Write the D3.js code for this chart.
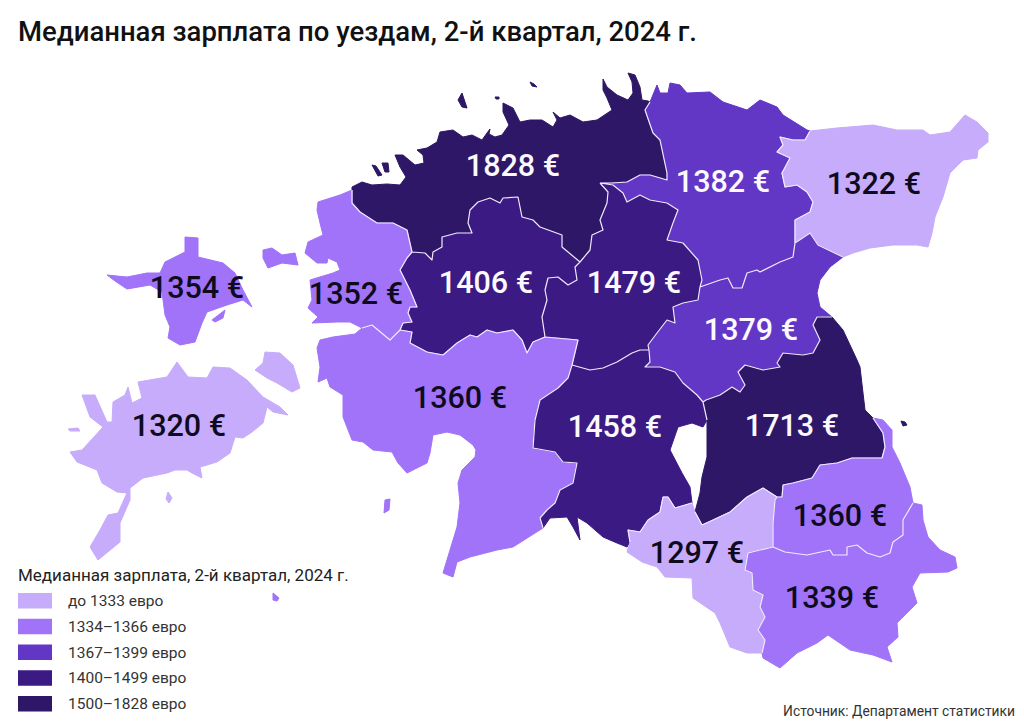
<!DOCTYPE html>
<html>
<head>
<meta charset="utf-8">
<script src="https://cdn.jsdelivr.net/npm/d3@7"></script>
<style>
  html, body { margin: 0; background: #fff; }
  svg { display: block; font-family: Roboto, sans-serif; }
</style>
</head>
<body>
<svg id="chart" width="1024" height="722"></svg>
<script>
var chartTitle = 'Медианная зарплата по уездам, 2-й квартал, 2024 г.';
var legendTitle = 'Медианная зарплата, 2-й квартал, 2024 г.';
var sourceText = 'Источник: Департамент статистики';

var counties = ['Harju', 'Laane-Viru', 'Ida-Viru', 'Jogeva', 'Jarva', 'Rapla', 'Laane', 'Parnu', 'Viljandi', 'Tartu', 'Valga', 'Polva', 'Voru', 'Hiiu', 'Saare'];
var wages = [1828, 1382, 1322, 1379, 1479, 1406, 1352, 1360, 1458, 1713, 1297, 1360, 1339, 1354, 1320];
var labelAnchors = [[513, 165], [723, 181], [874, 183], [751, 329], [634, 282], [486, 282], [356, 293], [460, 397], [615, 426], [792, 425], [697, 552], [840, 515], [832, 597], [197, 287], [179, 425]];

var thresholds = [1334, 1367, 1400, 1500];
var legendLabels = ['до 1333 евро', '1334–1366 евро', '1367–1399 евро', '1400–1499 евро', '1500–1828 евро'];
var palette = ['#c6acfa', '#a073f8', '#6237c6', '#3c1a84', '#2e1766'];

// county outlines, one array per shared border
var harjuCoast = [[352,190],[352,187],[362,182],[372,185],[387,184],[400,185],[406,177],[400,167],[395,155],[403,155],[415,165],[424,163],[423,155],[417,150],[427,148],[437,142],[440,132],[453,130],[463,137],[472,135],[482,140],[487,133],[490,129],[489,134],[495,137],[502,135],[509,125],[503,112],[503,103],[513,108],[520,122],[530,120],[542,120],[553,127],[557,120],[553,112],[560,118],[570,115],[583,122],[597,120],[612,110],[607,98],[603,90],[603,79],[607,87],[617,95],[628,100],[633,93],[632,82],[628,73],[635,75],[640,87],[642,100],[648,101],[650,102]];
var harjuViru = [[650,102],[645,110],[653,133],[660,140],[667,173],[667,180],[650,175],[640,175],[627,182],[612,183],[600,183]];
var harjuJarva = [[600,183],[608,192],[607,203],[600,220],[603,230],[592,235],[590,250],[580,262]];
var harjuRapla = [[580,262],[562,247],[562,235],[540,227],[533,220],[522,217],[518,197],[503,198],[500,203],[490,198],[478,202],[470,210],[468,223],[472,233],[457,233],[442,237],[442,247],[433,252],[432,260],[425,253],[412,252]];
var harjuLaane = [[412,252],[407,230],[393,223],[377,223],[360,212],[352,203],[352,190]];
var viruCoast = [[650,102],[657,85],[660,93],[668,93],[670,83],[680,85],[687,93],[710,92],[723,102],[747,110],[760,100],[777,107],[783,115],[807,130],[810,131]];
var viruIda = [[810,131],[805,140],[793,140],[780,137],[783,145],[777,152],[790,158],[782,173],[785,187],[797,185],[807,192],[813,202],[810,212],[795,220],[795,243]];
var viruJogeva = [[795,243],[793,257],[780,262],[760,272],[757,270],[747,273],[742,288],[733,288],[728,278],[720,280],[700,287]];
var viruJarva = [[700,287],[702,280],[698,260],[683,243],[667,240],[673,223],[678,210],[667,203],[650,200],[640,195],[627,202],[623,193],[613,185],[600,183]];
var idaCoast = [[810,131],[837,128],[873,125],[897,130],[923,130],[930,135],[950,132],[965,115],[977,122],[988,133],[988,142],[978,150],[977,158],[963,160],[950,173],[943,197],[935,217],[932,233],[928,247],[917,245],[893,245],[870,248],[853,253],[843,257]];
var idaJogeva = [[843,257],[818,245],[810,233],[795,243]];
var jogevaLake = [[843,257],[830,267],[820,280],[817,293],[820,307],[832,317]];
var jogevaTartu = [[832,317],[817,317],[813,325],[820,340],[813,353],[803,355],[783,353],[777,363],[780,367],[763,370],[745,365],[738,372],[745,385],[740,392],[732,387],[720,395],[706,400],[703,402]];
var jogevaViljandi = [[703,402],[697,395],[683,383],[675,372],[660,367],[645,367],[650,362],[649,350]];
var jogevaJarva = [[649,350],[648,345],[657,333],[667,320],[675,323],[673,307],[683,303],[698,300],[700,287]];
var jarvaViljandi = [[572,365],[590,370],[603,368],[617,362],[632,353],[640,350],[649,350]];
var jarvaParnu = [[545,337],[578,340],[572,365]];
var jarvaRapla = [[580,262],[575,267],[577,280],[568,285],[558,277],[548,278],[545,290],[547,300],[542,317],[545,337]];
var raplaParnu = [[545,337],[533,342],[527,353],[522,340],[513,330],[497,333],[487,330],[477,337],[470,335],[457,343],[443,355],[427,352],[410,343],[412,332],[400,330]];
var raplaLaane = [[400,330],[403,323],[412,322],[408,313],[410,307],[417,307],[410,290],[400,270],[407,258],[412,252]];
var laaneCoast = [[352,190],[340,195],[318,202],[317,210],[320,223],[323,235],[308,242],[305,253],[317,263],[327,263],[328,258],[337,262],[340,270],[333,273],[310,280],[312,300],[308,308],[318,317],[312,323],[337,322],[350,322],[362,328]];
var laaneParnu = [[362,328],[372,325],[390,340],[400,330]];
var parnuViljandi = [[572,365],[568,378],[558,388],[540,400],[535,420],[533,448],[555,452],[563,462],[577,463],[573,483],[560,490],[555,503],[547,510],[540,518],[543,528]];
var parnuCoast = [[543,528],[513,547],[497,550],[470,557],[457,562],[453,577],[443,573],[457,527],[460,503],[458,483],[462,470],[475,457],[476,450],[473,445],[460,435],[447,432],[433,435],[430,453],[427,463],[407,473],[398,463],[392,452],[373,450],[363,442],[352,440],[343,417],[343,395],[330,387],[327,378],[318,382],[320,367],[317,348],[320,340],[333,337],[355,334],[362,328]];
var viljandiTartu = [[703,402],[707,420]];
var viljandiLake = [[707,420],[703,427],[692,423],[678,427],[670,450],[682,473],[690,487],[692,503]];
var viljandiValga = [[692,503],[675,508],[668,497],[663,497],[660,512],[648,520],[640,532],[628,530],[630,542]];
var viljandiCoast = [[630,542],[627,547],[617,543],[603,537],[587,523],[577,517],[580,540],[573,527],[567,517],[550,518],[543,528]];
var tartuCoast = [[832,317],[843,330],[857,360],[860,367],[863,393],[865,410],[873,418]];
var tartuPolva = [[873,418],[883,433],[885,447],[882,458],[852,458],[837,463],[820,465],[812,478],[793,483],[783,485],[782,497],[777,497]];
var tartuValga = [[777,497],[763,488],[747,497],[730,512],[713,520],[702,525],[695,512]];
var tartuLake = [[695,512],[700,493],[702,477],[707,457],[707,427],[707,420]];
var valgaPolva = [[777,497],[775,500],[773,523],[773,547]];
var valgaVoru = [[773,547],[760,550],[748,553],[745,570],[752,573],[753,590],[763,595],[760,607],[765,617],[758,630],[765,640],[762,653]];
var valgaCoast = [[762,653],[747,653],[730,647],[720,623],[715,613],[693,598],[692,578],[665,577],[657,567],[642,562],[627,552],[630,542]];
var polvaVoru = [[773,547],[785,552],[807,555],[830,550],[833,555],[847,555],[847,547],[857,545],[867,553],[880,557],[890,553],[893,542],[903,535],[903,520],[913,503]];
var polvaCoast = [[913,503],[910,487],[900,463],[892,447],[892,430],[883,420],[873,418]];
var voruCoast = [[913,503],[922,505],[923,520],[928,537],[940,550],[955,557],[957,568],[948,572],[920,573],[912,587],[917,603],[897,623],[898,637],[887,647],[892,662],[873,655],[850,650],[828,635],[817,643],[797,653],[780,668],[763,658],[762,653]];

var hiiuOutline = [[185,237],[198,238],[198,257],[223,263],[235,273],[243,290],[252,307],[243,300],[227,305],[207,312],[202,323],[195,342],[180,345],[168,338],[170,327],[165,315],[162,292],[150,285],[127,289],[115,281],[107,275],[127,277],[147,273],[160,273],[165,262],[185,252]];
var kassari = [[212,320],[225,310],[223,318],[215,322]];
var saareOutline = [[138,382],[167,377],[177,362],[188,377],[207,378],[213,367],[230,368],[247,380],[263,397],[280,407],[288,415],[273,412],[267,407],[263,423],[252,432],[243,438],[235,437],[230,453],[217,462],[200,467],[202,478],[192,473],[187,470],[175,470],[167,473],[143,478],[130,488],[130,500],[120,523],[120,542],[98,560],[90,547],[100,530],[108,515],[118,513],[127,493],[117,492],[102,483],[97,470],[77,462],[70,452],[82,450],[93,438],[103,427],[90,417],[82,395],[95,395],[107,422],[112,422],[113,402],[125,395],[128,387],[132,403],[142,398]];
var muhu = [[255,370],[263,363],[265,352],[280,353],[293,365],[300,388],[292,392],[277,383],[267,378]];
var vilsandi = [[68,429],[78,428],[80,431],[70,431]];
var abruka = [[168,492],[172,498],[169,503],[166,499]];
var vormsi = [[263,250],[272,248],[282,255],[295,253],[298,265],[282,263],[268,268],[263,258]];
var naissaar = [[458,100],[462,93],[467,108],[462,107]];
var aegna = [[530,82],[534,84],[537,87],[532,86]];
var prangli = [[495,97],[499,97],[499,99],[496,99]];
var pakriWest = [[372,165],[376,166],[382,175],[378,176]];
var pakriEast = [[382,163],[388,163],[389,172],[385,172]];
var piirissaar = [[901,421],[905,422],[907,425],[903,426]];
var kihnu = [[385,500],[390,499],[389,510],[384,513]];
var ruhnu = [[273,593],[279,598],[277,601],[273,600]];

function rev(a) { return a.slice().reverse(); }

function ring() {
    var pts = [];
    for (var i = 0; i < arguments.length; i++) pts = pts.concat(arguments[i]);
    pts.push(pts[0]);
    return pts;
}
function poly(a) { return [ring(a)]; }

// same order as counties
var shapes = [
    [[ring(harjuCoast, harjuViru, harjuJarva, harjuRapla, harjuLaane)], poly(naissaar), poly(aegna), poly(prangli), poly(pakriWest), poly(pakriEast)],
    [[ring(viruCoast, viruIda, viruJogeva, viruJarva, rev(harjuViru))]],
    [[ring(idaCoast, idaJogeva, rev(viruIda))]],
    [[ring(idaJogeva, viruJogeva, rev(jogevaJarva), rev(jogevaViljandi), rev(jogevaTartu), rev(jogevaLake))]],
    [[ring(rev(viruJarva), rev(jogevaJarva), rev(jarvaViljandi), rev(jarvaParnu), rev(jarvaRapla), rev(harjuJarva))]],
    [[ring(rev(harjuRapla), jarvaRapla, raplaParnu, raplaLaane)]],
    [[ring(laaneCoast, laaneParnu, raplaLaane, harjuLaane)], poly(vormsi)],
    [[ring(jarvaParnu, parnuViljandi, parnuCoast, laaneParnu, rev(raplaParnu))], poly(kihnu), poly(ruhnu)],
    [[ring(jarvaViljandi, rev(jogevaViljandi), viljandiTartu, viljandiLake, viljandiValga, viljandiCoast, rev(parnuViljandi))]],
    [[ring(tartuCoast, tartuPolva, tartuValga, tartuLake, rev(viljandiTartu), rev(jogevaTartu))], poly(piirissaar)],
    [[ring(rev(tartuValga), valgaPolva, valgaVoru, valgaCoast, rev(viljandiValga))]],
    [[ring(tartuPolva, valgaPolva, polvaVoru, polvaCoast)]],
    [[ring(polvaVoru, voruCoast, rev(valgaVoru))]],
    [poly(hiiuOutline), poly(kassari)],
    [poly(saareOutline), poly(muhu), poly(vilsandi), poly(abruka)]
];

var features = counties.map(function(name, i) {
    return {
        type: 'Feature',
        properties: { name: name, wage: wages[i], anchor: labelAnchors[i] },
        geometry: { type: 'MultiPolygon', coordinates: shapes[i] }
    };
});

var svg = d3.select('#chart');
var projection = d3.geoIdentity();
var path = d3.geoPath(projection);
var color = d3.scaleThreshold().domain(thresholds).range(palette);

svg.append('g').selectAll('path')
    .data(features)
    .join('path')
    .attr('d', path)
    .attr('fill', function(d) { return color(d.properties.wage); })
    .attr('stroke', function(d) { return color(d.properties.wage); })
    .attr('stroke-width', 1)
    .attr('stroke-linejoin', 'round');

// inner county borders on top of the fills
var innerBorders = [harjuViru, harjuJarva, harjuRapla, harjuLaane, viruIda, viruJogeva, viruJarva, idaJogeva, jogevaTartu, jogevaViljandi, jogevaJarva, jarvaViljandi, jarvaParnu, jarvaRapla, raplaParnu, raplaLaane, laaneParnu, parnuViljandi, viljandiTartu, viljandiValga, tartuPolva, tartuValga, valgaPolva, valgaVoru, polvaVoru];
svg.append('path')
    .datum({ type: 'MultiLineString', coordinates: innerBorders })
    .attr('d', path)
    .attr('fill', 'none')
    .attr('stroke', '#f1eafc')
    .attr('stroke-width', 1.2)
    .attr('stroke-linejoin', 'round');

svg.append('g').selectAll('text')
    .data(features)
    .join('text')
    .attr('x', function(d) { return projection(d.properties.anchor)[0]; })
    .attr('y', function(d) { return projection(d.properties.anchor)[1]; })
    .attr('dy', '0.36em')
    .attr('text-anchor', 'middle')
    .attr('font-size', 30.5)
    .attr('font-weight', 500)
    .attr('fill', function(d) { return d.properties.wage >= thresholds[1] ? '#fbf9fe' : '#0f0b1e'; })
    .text(function(d) { return d.properties.wage + ' €'; });

svg.append('text')
    .attr('x', 18)
    .attr('y', 41)
    .attr('font-size', 27.5)
    .attr('font-weight', 500)
    .attr('fill', '#111')
    .text(chartTitle);

var legend = svg.append('g');
legend.append('text')
    .attr('x', 18)
    .attr('y', 581)
    .attr('font-size', 17)
    .attr('fill', '#222')
    .text(legendTitle);

var legendY = d3.scalePoint().domain(legendLabels).range([593, 696]);
var rows = legend.selectAll('g')
    .data(legendLabels)
    .join('g')
    .attr('transform', function(d) { return 'translate(18,' + legendY(d) + ')'; });
rows.append('rect')
    .attr('width', 34)
    .attr('height', 15.5)
    .attr('fill', function(d, i) { return palette[i]; });
rows.append('text')
    .attr('x', 50)
    .attr('y', 13)
    .attr('font-size', 15.5)
    .attr('fill', '#333')
    .text(function(d) { return d; });

svg.append('text')
    .attr('x', 1015)
    .attr('y', 716)
    .attr('text-anchor', 'end')
    .attr('font-size', 13.8)
    .attr('fill', '#333')
    .text(sourceText);
</script>
</body>
</html>
